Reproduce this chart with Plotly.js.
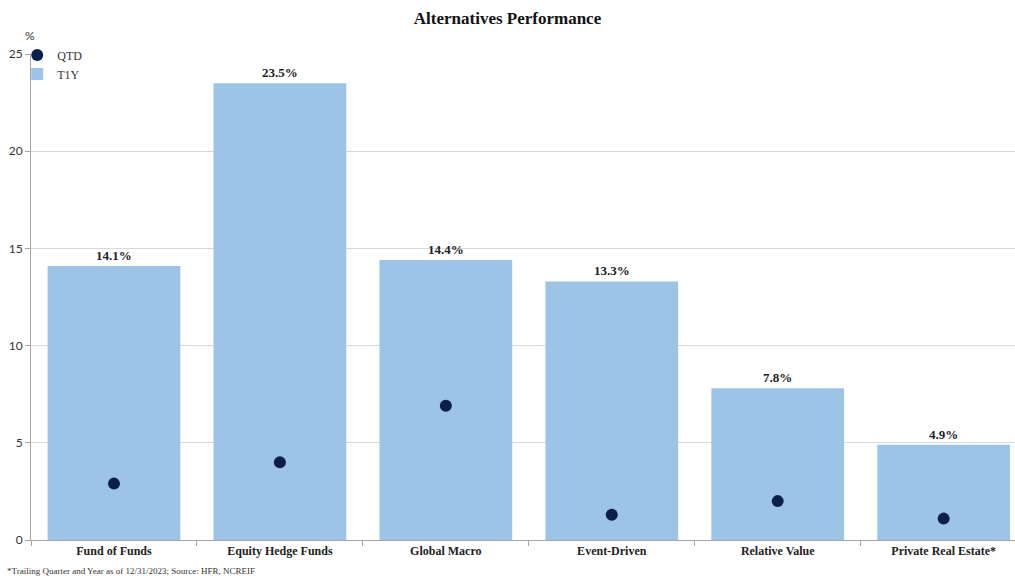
<!DOCTYPE html>
<html>
<head>
<meta charset="utf-8">
<script src="https://cdn.plot.ly/plotly-3.0.1.min.js"></script>
<style>html,body{margin:0;padding:0;background:#fff;}#chart{width:1015px;height:576px;}</style>
</head>
<body>
<div id="chart"></div>
<script>
const categories = ["Fund of Funds", "Equity Hedge Funds", "Global Macro", "Event-Driven", "Relative Value", "Private Real Estate*"];
const t1yValues = [14.1, 23.5, 14.4, 13.3, 7.8, 4.9];
const qtdValues = [2.9, 4.0, 6.9, 1.3, 2.0, 1.1];
const yTickValues = [0, 5, 10, 15, 20, 25];

const serif = "'Liberation Serif', 'DejaVu Serif', serif";
const sans = "Lato, 'Open Sans', sans-serif";

const traces = [
  {
    type: "scatter", mode: "markers", name: "QTD",
    x: categories, y: qtdValues,
    marker: {color: "#0b1f4b", size: 12},
    hoverinfo: "skip"
  },
  {
    type: "bar", name: "T1Y",
    x: categories, y: t1yValues,
    width: 0.8,
    marker: {color: "#9dc3e6"},
    text: t1yValues.map(v => v.toFixed(1) + "%"),
    textposition: "outside",
    cliponaxis: false,
    textfont: {family: serif, size: 13, color: "#222", weight: "bold"},
    hoverinfo: "skip"
  }
];

const layout = {
  width: 1015, height: 576,
  margin: {l: 31, r: 0, t: 54, b: 36},
  paper_bgcolor: "#fff", plot_bgcolor: "#fff",
  title: {text: "<b>Alternatives Performance</b>", x: 0.5, xanchor: "center", y: 0.968, yanchor: "middle",
          font: {family: serif, size: 17, color: "#111"}},
  showlegend: true,
  legend: {x: -0.014, xanchor: "left", y: 1.028, yanchor: "top", traceorder: "normal",
           font: {family: serif, size: 12, color: "#333"}, bgcolor: "rgba(0,0,0,0)", tracegroupgap: 0,
           itemwidth: 30},
  xaxis: {
    type: "category", range: [-0.5, 5.43],
    showline: true, linecolor: "#a6a6a6", linewidth: 1,
    ticks: "outside", tickson: "boundaries", ticklen: 5, tickcolor: "#a6a6a6",
    showgrid: false, zeroline: false,
    tickfont: {family: serif, size: 12, color: "#222", weight: "bold"}
  },
  yaxis: {
    range: [0, 25], tickvals: yTickValues,
    showline: true, linecolor: "#a6a6a6", linewidth: 1,
    ticks: "outside", ticklen: 5, tickcolor: "#a6a6a6",
    showgrid: true, gridcolor: "#d9d9d9", zeroline: false,
    tickfont: {family: sans, size: 12, color: "#333"}
  },
  bargap: 0.2,
  annotations: [
    {text: "%", xref: "paper", yref: "paper", x: -0.001, y: 1, yshift: 9, xanchor: "center", yanchor: "bottom",
     showarrow: false, font: {family: sans, size: 12, color: "#333"}},
    {text: "*Trailing Quarter and Year as of 12/31/2023; Source: HFR, NCREIF", xref: "paper", yref: "paper",
     x: -0.026, y: 0, yshift: -38, xanchor: "left", yanchor: "bottom",
     showarrow: false, font: {family: serif, size: 9, color: "#333"}}
  ]
};

Plotly.newPlot("chart", traces, layout, {displayModeBar: false, staticPlot: true});
</script>
</body>
</html>
